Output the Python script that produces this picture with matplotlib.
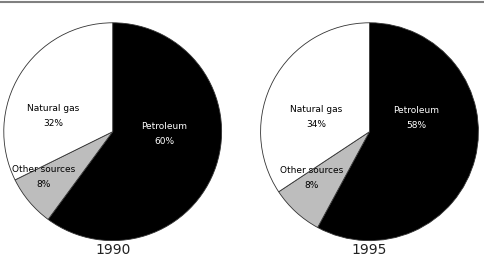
import matplotlib
matplotlib.use("Agg")
import matplotlib.pyplot as plt

# data (shares in %)
years = ["1990", "1995"]
sources = ["Petroleum", "Other sources", "Natural gas"]
shares_1990 = [60.1, 7.6, 32.3]
shares_1995 = [57.9, 7.8, 34.3]
pct_labels_1990 = ["60%", "8%", "32%"]
pct_labels_1995 = ["58%", "8%", "34%"]

colors = ["black", "#bdbdbd", "white"]
text_colors = ["white", "black", "black"]
# label centres in pie-radius units (placement only)
label_pos_1990 = [(0.475, -0.02), (-0.634, -0.416), (-0.547, 0.143)]
label_pos_1995 = [(0.43, 0.125), (-0.53, -0.425), (-0.486, 0.138)]

W, H = 484, 257
fig = plt.figure(figsize=(W / 100, H / 100), dpi=100)

# thin grey rule across the top
fig.add_artist(plt.Line2D([0, 1], [1 - 2 / H, 1 - 2 / H], color="#808080", lw=1.5))


def draw_pie(cx, cy, r, shares, pcts, positions, year):
    ax = fig.add_axes([(cx - r) / W, (H - cy - r) / H, 2 * r / W, 2 * r / H])
    ax.pie(shares, colors=colors, startangle=90, counterclock=False,
           radius=1, wedgeprops=dict(edgecolor="#333333", linewidth=0.6))
    for name, pct, tc, (x, y) in zip(sources, pcts, text_colors, positions):
        ax.text(x, y, name + "\n" + pct, ha="center", va="center", color=tc,
                fontsize=6.5, linespacing=1.9)
    ax.set_xlim(-1.01, 1.01)
    ax.set_ylim(-1.01, 1.01)
    ax.set_aspect("equal")
    ax.axis("off")
    fig.text(cx / W, 1 - 249.5 / H, year, ha="center", va="center", fontsize=10,
             color="#222222")


draw_pie(112.7, 131.7, 110, shares_1990, pct_labels_1990, label_pos_1990, years[0])
draw_pie(369.5, 131.7, 110, shares_1995, pct_labels_1995, label_pos_1995, years[1])

fig.savefig("out.png", dpi=100)
